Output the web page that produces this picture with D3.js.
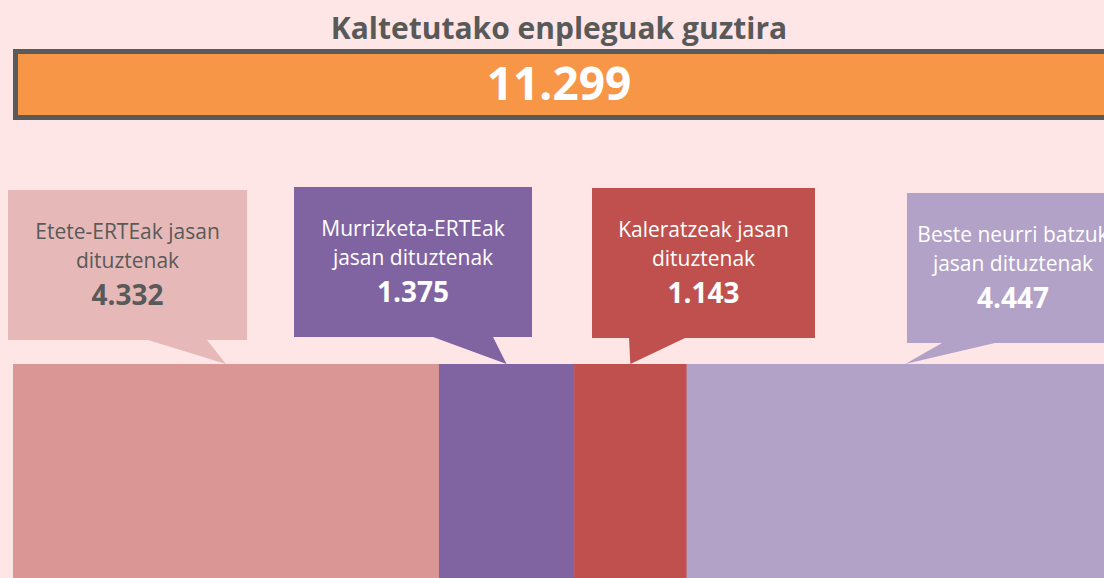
<!DOCTYPE html>
<html>
<head>
<meta charset="utf-8">
<script src="https://cdn.jsdelivr.net/npm/d3@7"></script>
<style>
  html, body { margin: 0; padding: 0; background: #fee6e6; overflow: hidden; }
  text { font-family: "Open Sans", "Noto Sans", sans-serif; }
</style>
</head>
<body>
<div id="chart"></div>
<script>
//// DATA ////
var title = "Kaltetutako enpleguak guztira";
var total = 11299;
var categories = ["Etete-ERTEak jasan dituztenak", "Murrizketa-ERTEak jasan dituztenak",
  "Kaleratzeak jasan dituztenak", "Beste neurri batzuk jasan dituztenak"];
var labelLines = [
  ["Etete-ERTEak jasan", "dituztenak"],
  ["Murrizketa-ERTEak", "jasan dituztenak"],
  ["Kaleratzeak jasan", "dituztenak"],
  ["Beste neurri batzuk", "jasan dituztenak"]
];
var values = [4332, 1375, 1143, 4447];

//// SET UP ////
var svgWidth = 1104;
var svgHeight = 578;

var barColors = ["#d99694", "#8064a2", "#c0504d", "#b2a2c7"];
var boxColors = ["#e6b9b8", "#8064a2", "#c0504d", "#b2a2c7"];
var textColors = ["#595959", "#ffffff", "#ffffff", "#ffffff"];

// callout box layout: left, top, width, height, pointer base (two x's)
var boxes = [
  {x: 8, y: 190, w: 239, h: 150, b0: 148, b1: 207},
  {x: 294, y: 187, w: 238, h: 150, b0: 433, b1: 493},
  {x: 592, y: 188, w: 223, h: 150, b0: 629, b1: 685},
  {x: 907, y: 193, w: 212, h: 150, b0: 942, b1: 995}
];

var fmt = d3.formatLocale({decimal: ",", thousands: ".", grouping: [3]}).format(",d");

var svg = d3.select("#chart")
  .append("svg")
  .attr("width", svgWidth)
  .attr("height", svgHeight);

svg.append("rect")
  .attr("width", svgWidth)
  .attr("height", svgHeight)
  .attr("fill", "#fee6e6");

// Title
svg.append("text")
  .attr("x", 559)
  .attr("y", 39)
  .attr("text-anchor", "middle")
  .attr("font-size", 30)
  .attr("font-weight", "bold")
  .attr("fill", "#595959")
  .text(title);

// Total box
svg.append("rect")
  .attr("x", 15.5)
  .attr("y", 51.5)
  .attr("width", 1120)
  .attr("height", 66)
  .attr("fill", "#f79646")
  .attr("stroke", "#5a5a5a")
  .attr("stroke-width", 5);

svg.append("text")
  .attr("x", 559)
  .attr("y", 100)
  .attr("text-anchor", "middle")
  .attr("font-size", 46)
  .attr("font-weight", "bold")
  .attr("fill", "#ffffff")
  .text(fmt(total));

// Stacked bar
var xScale = d3.scaleLinear()
  .domain([0, total])
  .range([13, 1124]);

var starts = d3.cumsum([0].concat(values)).slice(0, values.length);
var barTop = 364;

svg.selectAll(".seg")
  .data(values)
  .enter()
  .append("rect")
  .attr("class", "seg")
  .attr("x", (d, i) => xScale(starts[i]))
  .attr("y", barTop)
  .attr("width", (d, i) => xScale(starts[i] + d) - xScale(starts[i]) + 0.5)
  .attr("height", svgHeight - barTop)
  .attr("fill", (d, i) => barColors[i]);

// Callouts
var callouts = svg.selectAll(".callout")
  .data(values)
  .enter()
  .append("g")
  .attr("class", "callout");

callouts.append("path")
  .attr("d", (d, i) => {
    var b = boxes[i];
    var tip = xScale(starts[i] + d / 2);
    var bottom = b.y + b.h;
    return "M" + b.x + "," + b.y + "H" + (b.x + b.w) + "V" + bottom +
      "H" + b.b1 + "L" + tip + "," + barTop + "L" + b.b0 + "," + bottom +
      "H" + b.x + "Z";
  })
  .attr("fill", (d, i) => boxColors[i]);

callouts.each(function(d, i) {
  var b = boxes[i];
  var cx = b.x + b.w / 2;
  var g = d3.select(this);
  labelLines[i].forEach(function(line, j) {
    g.append("text")
      .attr("x", cx)
      .attr("y", b.y + 49 + j * 29)
      .attr("text-anchor", "middle")
      .attr("font-size", 21)
      .attr("fill", textColors[i])
      .text(line);
  });
  g.append("text")
    .attr("x", cx)
    .attr("y", b.y + 115)
    .attr("text-anchor", "middle")
    .attr("font-size", 28)
    .attr("font-weight", "bold")
    .attr("fill", textColors[i])
    .text(fmt(d));
});
</script>
</body>
</html>
